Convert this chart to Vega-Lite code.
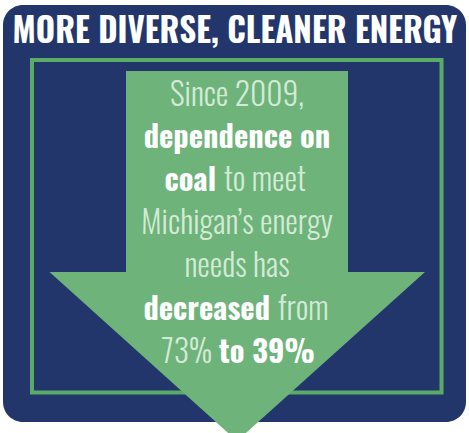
{
  "$schema": "https://vega.github.io/schema/vega-lite/v6.json",
  "width": 469,
  "height": 433,
  "autosize": {"type": "fit", "contains": "padding"},
  "padding": 0,
  "background": "#ffffff",
  "view": {"stroke": null},
  "datasets": {
    "body": [
      {"text": "Since 2009,", "emphasis": "light", "part": "whole", "x": 237, "y": 106},
      {"text": "dependence on", "emphasis": "bold", "part": "whole", "x": 237, "y": 148},
      {"text": "coal", "emphasis": "bold", "part": "first", "x": 216, "y": 191},
      {"text": "to meet", "emphasis": "light", "part": "last", "x": 224, "y": 191},
      {"text": "Michigan’s energy", "emphasis": "light", "part": "whole", "x": 237, "y": 234},
      {"text": "needs has", "emphasis": "light", "part": "whole", "x": 237, "y": 277},
      {"text": "decreased", "emphasis": "bold", "part": "first", "x": 270, "y": 319.5},
      {"text": "from", "emphasis": "light", "part": "last", "x": 278, "y": 319.5},
      {"text": "73%", "emphasis": "light", "part": "first", "x": 212, "y": 363},
      {"text": "to 39%", "emphasis": "bold", "part": "last", "x": 219, "y": 363}
    ]
  },
  "layer": [
    {
      "data": {"values": [{"x0": 3, "x1": 466, "y0": 5, "y1": 422}]},
      "mark": {"type": "rect", "color": "#22366c", "cornerRadius": 20},
      "encoding": {
        "x": {"field": "x0", "type": "quantitative", "scale": {"domain": [0, 469], "nice": false, "zero": false}, "axis": null},
        "x2": {"field": "x1"},
        "y": {"field": "y0", "type": "quantitative", "scale": {"domain": [0, 433], "reverse": true, "nice": false, "zero": false}, "axis": null},
        "y2": {"field": "y1"}
      }
    },
    {
      "data": {"values": [{"x0": 32, "x1": 441.5, "y0": 60, "y1": 392.5}]},
      "mark": {"type": "rect", "filled": false, "stroke": "#5aab66", "strokeWidth": 4},
      "encoding": {
        "x": {"field": "x0", "type": "quantitative"},
        "x2": {"field": "x1"},
        "y": {"field": "y0", "type": "quantitative"},
        "y2": {"field": "y1"}
      }
    },
    {
      "data": {"values": [{"x0": 126, "x1": 348, "y0": 71, "y1": 273}]},
      "mark": {"type": "rect", "color": "#6db37a"},
      "encoding": {
        "x": {"field": "x0", "type": "quantitative"},
        "x2": {"field": "x1"},
        "y": {"field": "y0", "type": "quantitative"},
        "y2": {"field": "y1"}
      }
    },
    {
      "data": {"values": [
        {"x": 49.5, "top": 272, "bottom": 272},
        {"x": 237, "top": 272, "bottom": 441},
        {"x": 425, "top": 272, "bottom": 272}
      ]},
      "mark": {"type": "area", "color": "#6db37a", "opacity": 1, "clip": true},
      "encoding": {
        "x": {"field": "x", "type": "quantitative"},
        "y": {"field": "top", "type": "quantitative"},
        "y2": {"field": "bottom"}
      }
    },
    {
      "data": {"values": [{"text": "MORE DIVERSE, CLEANER ENERGY", "x": 235, "y": 43}]},
      "mark": {"type": "text", "font": "Oswald, 'Roboto Condensed', 'Liberation Sans Narrow', 'DejaVu Sans Condensed', sans-serif", "fontWeight": "bold", "fontSize": 33, "color": "#ffffff", "align": "center", "baseline": "alphabetic"},
      "encoding": {
        "x": {"field": "x", "type": "quantitative"},
        "y": {"field": "y", "type": "quantitative"},
        "text": {"field": "text"}
      }
    },
    {
      "data": {"name": "body"},
      "transform": [{"filter": "datum.emphasis == 'light' && datum.part == 'whole'"}],
      "mark": {"type": "text", "font": "Oswald, 'Roboto Condensed', 'Liberation Sans Narrow', 'DejaVu Sans Condensed', sans-serif", "fontWeight": 300, "fontSize": 31.5, "align": "center", "baseline": "alphabetic"},
      "encoding": {
        "x": {"field": "x", "type": "quantitative"},
        "y": {"field": "y", "type": "quantitative"},
        "text": {"field": "text"},
        "color": {"field": "emphasis", "type": "nominal", "scale": {"domain": ["bold", "light"], "range": ["#ffffff", "#d4ead6"]}, "legend": null}
      }
    },
    {
      "data": {"name": "body"},
      "transform": [{"filter": "datum.emphasis == 'bold' && datum.part == 'whole'"}],
      "mark": {"type": "text", "font": "Oswald, 'Roboto Condensed', 'Liberation Sans Narrow', 'DejaVu Sans Condensed', sans-serif", "fontWeight": "bold", "fontSize": 30.5, "align": "center", "baseline": "alphabetic"},
      "encoding": {
        "x": {"field": "x", "type": "quantitative"},
        "y": {"field": "y", "type": "quantitative"},
        "text": {"field": "text"},
        "color": {"field": "emphasis", "type": "nominal", "legend": null}
      }
    },
    {
      "data": {"name": "body"},
      "transform": [{"filter": "datum.emphasis == 'light' && datum.part == 'first'"}],
      "mark": {"type": "text", "font": "Oswald, 'Roboto Condensed', 'Liberation Sans Narrow', 'DejaVu Sans Condensed', sans-serif", "fontWeight": 300, "fontSize": 31.5, "align": "right", "baseline": "alphabetic"},
      "encoding": {
        "x": {"field": "x", "type": "quantitative"},
        "y": {"field": "y", "type": "quantitative"},
        "text": {"field": "text"},
        "color": {"field": "emphasis", "type": "nominal", "legend": null}
      }
    },
    {
      "data": {"name": "body"},
      "transform": [{"filter": "datum.emphasis == 'bold' && datum.part == 'first'"}],
      "mark": {"type": "text", "font": "Oswald, 'Roboto Condensed', 'Liberation Sans Narrow', 'DejaVu Sans Condensed', sans-serif", "fontWeight": "bold", "fontSize": 30.5, "align": "right", "baseline": "alphabetic"},
      "encoding": {
        "x": {"field": "x", "type": "quantitative"},
        "y": {"field": "y", "type": "quantitative"},
        "text": {"field": "text"},
        "color": {"field": "emphasis", "type": "nominal", "legend": null}
      }
    },
    {
      "data": {"name": "body"},
      "transform": [{"filter": "datum.emphasis == 'light' && datum.part == 'last'"}],
      "mark": {"type": "text", "font": "Oswald, 'Roboto Condensed', 'Liberation Sans Narrow', 'DejaVu Sans Condensed', sans-serif", "fontWeight": 300, "fontSize": 31.5, "align": "left", "baseline": "alphabetic"},
      "encoding": {
        "x": {"field": "x", "type": "quantitative"},
        "y": {"field": "y", "type": "quantitative"},
        "text": {"field": "text"},
        "color": {"field": "emphasis", "type": "nominal", "legend": null}
      }
    },
    {
      "data": {"name": "body"},
      "transform": [{"filter": "datum.emphasis == 'bold' && datum.part == 'last'"}],
      "mark": {"type": "text", "font": "Oswald, 'Roboto Condensed', 'Liberation Sans Narrow', 'DejaVu Sans Condensed', sans-serif", "fontWeight": "bold", "fontSize": 30.5, "align": "left", "baseline": "alphabetic"},
      "encoding": {
        "x": {"field": "x", "type": "quantitative"},
        "y": {"field": "y", "type": "quantitative"},
        "text": {"field": "text"},
        "color": {"field": "emphasis", "type": "nominal", "legend": null}
      }
    }
  ]
}
